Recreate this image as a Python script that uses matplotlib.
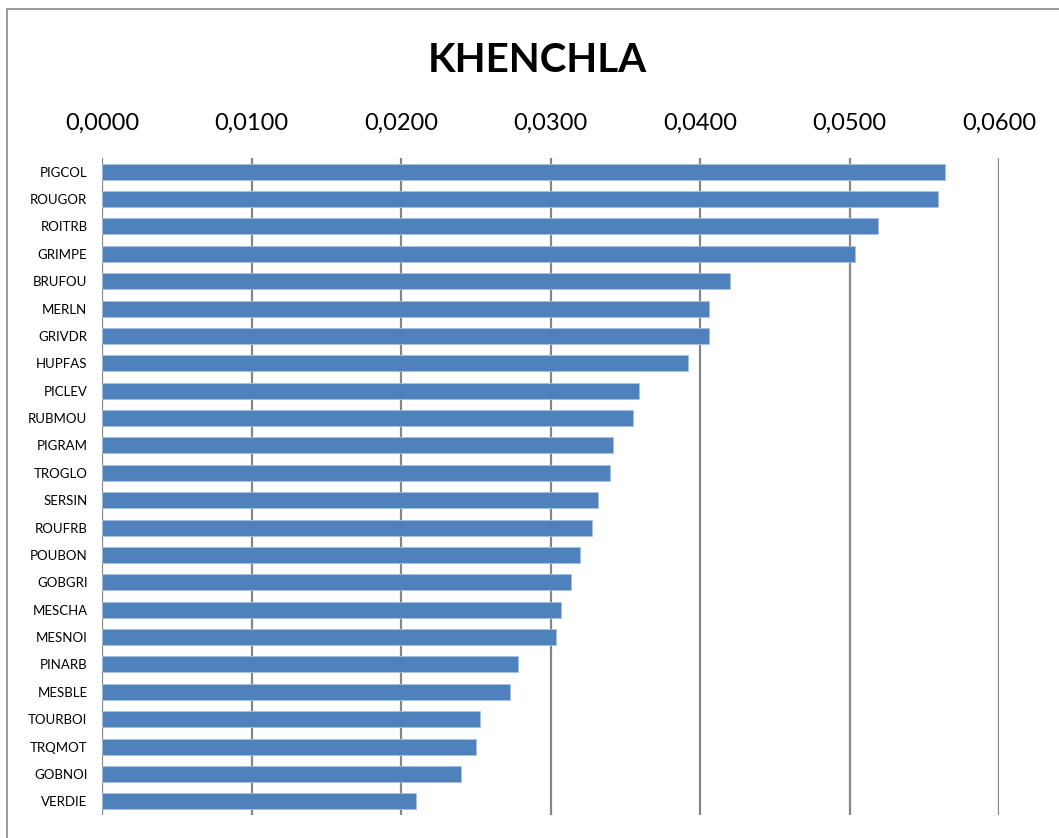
import matplotlib
matplotlib.use("Agg")
import matplotlib.pyplot as plt
from matplotlib.patches import Rectangle
from matplotlib.ticker import FuncFormatter

# espèces et valeurs (de haut en bas)
especes = ["PIGCOL", "ROUGOR", "ROITRB", "GRIMPE", "BRUFOU", "MERLN", "GRIVDR",
           "HUPFAS", "PICLEV", "RUBMOU", "PIGRAM", "TROGLO", "SERSIN", "ROUFRB",
           "POUBON", "GOBGRI", "MESCHA", "MESNOI", "PINARB", "MESBLE", "TOURBOI",
           "TRQMOT", "GOBNOI", "VERDIE"]
valeurs = [0.0564, 0.0559, 0.0519, 0.0504, 0.0420, 0.0406, 0.0406,
           0.0392, 0.0359, 0.0355, 0.0342, 0.0340, 0.0332, 0.0328,
           0.0320, 0.0314, 0.0307, 0.0304, 0.0278, 0.0273, 0.0253,
           0.0250, 0.0240, 0.0210]
graduations = [0.0, 0.01, 0.02, 0.03, 0.04, 0.05, 0.06]

plt.rcParams['font.family'] = ['Lato', 'DejaVu Sans']

fig = plt.figure(figsize=(10.59, 8.38), dpi=100)
ax = fig.add_axes([102 / 1059, 1 - 815 / 838, (999 - 102) / 1059, (815 - 158) / 838])

pos = list(range(len(especes)))
ax.barh(pos, valeurs, height=0.58, color='#4F81BD', edgecolor='#a9c0de', linewidth=0.6, zorder=3)

ax.set_ylim(len(especes) - 0.5, -0.5)
ax.set_xlim(0, 0.06)
ax.set_yticks(pos)
ax.set_yticklabels(especes, fontsize=9.5)
ax.set_xticks(graduations)
ax.xaxis.set_major_formatter(FuncFormatter(lambda v, p: f"{v:.4f}".replace('.', ',')))
ax.xaxis.tick_top()
ax.tick_params(axis='x', length=0, labelsize=17, pad=17.5)
ax.tick_params(axis='y', length=0, pad=10.5)
ax.grid(axis='x', color='#868686', linewidth=1.6, zorder=0)
for s in ax.spines.values():
    s.set_visible(False)

fig.text(537 / 1059, 1 - 60 / 838, "KHENCHLA", ha='center', va='center',
         fontsize=29, fontweight='bold')

# cadre du graphique
fig.patches.append(Rectangle((7 / 1059, -0.1), 1.2, 1 - 9 / 838 + 0.1, transform=fig.transFigure,
                             fill=False, edgecolor='#8a8a8a', linewidth=1.2))

fig.savefig("out.png", dpi=100)
